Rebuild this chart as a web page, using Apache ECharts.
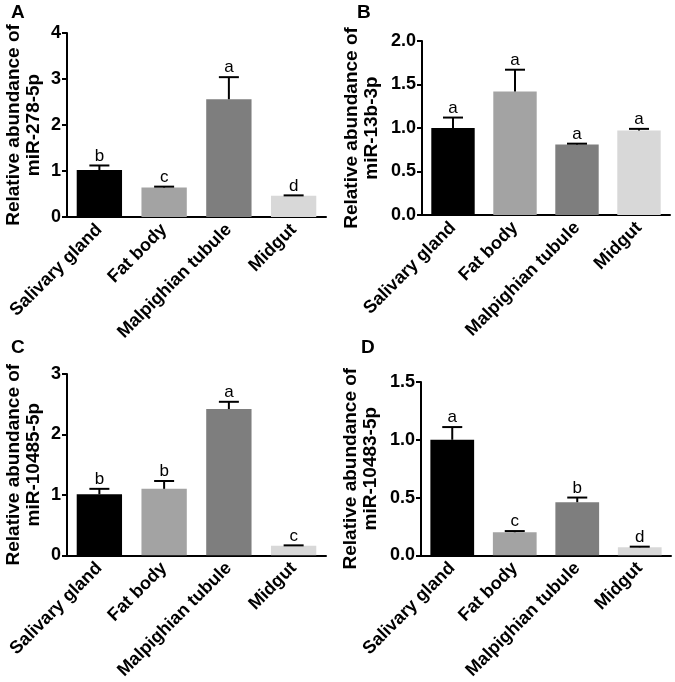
<!DOCTYPE html>
<html>
<head>
<meta charset="utf-8">
<script src="https://cdn.jsdelivr.net/npm/echarts@6/dist/echarts.min.js"></script>
<style>
html,body{margin:0;padding:0;background:#fff;}
#chart{width:675px;height:682px;}
</style>
</head>
<body>
<div id="chart"></div>
<script>
// ---- data ----
const categories = ['Salivary gland', 'Fat body', 'Malpighian tubule', 'Midgut'];
const barColors = ['#000000', '#a3a3a3', '#7e7e7e', '#d8d8d8'];

const panelLetters = ['A', 'B', 'C', 'D'];
const yTitles = ['miR-278-5p', 'miR-13b-3p', 'miR-10485-5p', 'miR-10483-5p'];

const meanA = [1.02, 0.64, 2.56, 0.46];
const errA  = [0.10, 0.02, 0.48, 0.01];
const sigA  = ['b', 'c', 'a', 'd'];

const meanB = [1.00, 1.42, 0.81, 0.97];
const errB  = [0.12, 0.25, 0.01, 0.02];
const sigB  = ['a', 'a', 'a', 'a'];

const meanC = [1.01, 1.10, 2.42, 0.16];
const errC  = [0.09, 0.13, 0.12, 0.005];
const sigC  = ['b', 'b', 'a', 'c'];

const meanD = [1.00, 0.20, 0.46, 0.07];
const errD  = [0.11, 0.01, 0.04, 0.005];
const sigD  = ['a', 'c', 'b', 'd'];

const yMax = [4, 2, 3, 1.5];
const yInterval = [1, 0.5, 1, 0.5];
const yDecimals = [0, 1, 0, 1];

// ---- layout ----
const grids = [
  {left: 67, top: 33, width: 259, height: 184},
  {left: 422, top: 41, width: 248, height: 174},
  {left: 67, top: 374, width: 259, height: 184},
  {left: 421, top: 382, width: 250, height: 177}
];
const nameGaps = [23, 40, 23, 40];
const letterPos = [[11, 3], [357, 3], [11, 338], [361, 338]];

const means = [meanA, meanB, meanC, meanD];
const errs = [errA, errB, errC, errD];
const sigs = [sigA, sigB, sigC, sigD];

const FONT = '"Liberation Sans", Arial, sans-serif';

const xAxes = [], yAxes = [], series = [], graphics = [];
for (let p = 0; p < 4; p++) {
  xAxes.push({
    type: 'category', gridIndex: p, data: categories,
    axisLine: {lineStyle: {color: '#000', width: 2}},
    axisTick: {alignWithLabel: true, length: 5, lineStyle: {color: '#000', width: 2}},
    axisLabel: {rotate: 45, margin: 10, color: '#000', fontWeight: 'bold', fontSize: 18, fontFamily: FONT, interval: 0}
  });
  const dec = yDecimals[p];
  yAxes.push({
    type: 'value', gridIndex: p, min: 0, max: yMax[p], interval: yInterval[p],
    name: 'Relative abundance of\n' + yTitles[p],
    nameLocation: 'middle', nameGap: nameGaps[p],
    nameTextStyle: {color: '#000', fontWeight: 'bold', fontSize: 19, fontFamily: FONT, lineHeight: 20},
    axisLine: {show: true, lineStyle: {color: '#000', width: 2}},
    axisTick: {show: true, length: 5, lineStyle: {color: '#000', width: 2}},
    splitLine: {show: false},
    axisLabel: {color: '#000', fontWeight: 'bold', fontSize: 18, fontFamily: FONT, margin: 6,
      formatter: v => v.toFixed(dec)}
  });
  series.push({
    type: 'bar', xAxisIndex: p, yAxisIndex: p, barWidth: '70%',
    data: means[p].map((v, i) => ({value: v, itemStyle: {color: barColors[i]}})),
    z: 2
  });
  const sig = sigs[p];
  series.push({
    type: 'custom', xAxisIndex: p, yAxisIndex: p, z: 3,
    data: means[p].map((v, i) => [i, v, errs[p][i]]),
    encode: {x: 0, y: 1},
    renderItem: function (params, api) {
      const i = api.value(0), m = api.value(1), e = api.value(2);
      const p0 = api.coord([i, m]);
      const p1 = api.coord([i, m + e]);
      const hw = 10;
      return {
        type: 'group',
        children: [
          {type: 'line', shape: {x1: p0[0], y1: p0[1], x2: p1[0], y2: p1[1]}, style: {stroke: '#000', lineWidth: 2}},
          {type: 'line', shape: {x1: p1[0] - hw, y1: p1[1], x2: p1[0] + hw, y2: p1[1]}, style: {stroke: '#000', lineWidth: 2}},
          {type: 'text', x: p1[0], y: p1[1] - 1,
            style: {text: sig[params.dataIndex], fill: '#000', font: '17px ' + FONT, align: 'center', verticalAlign: 'bottom'}}
        ]
      };
    }
  });
  graphics.push({
    type: 'text', left: letterPos[p][0], top: letterPos[p][1],
    style: {text: panelLetters[p], fill: '#000', font: 'bold 19px ' + FONT}
  });
}

const chart = echarts.init(document.getElementById('chart'), null, {renderer: 'canvas'});
chart.setOption({
  animation: false,
  backgroundColor: '#fff',
  grid: grids,
  xAxis: xAxes,
  yAxis: yAxes,
  series: series,
  graphic: graphics
});
</script>
</body>
</html>
